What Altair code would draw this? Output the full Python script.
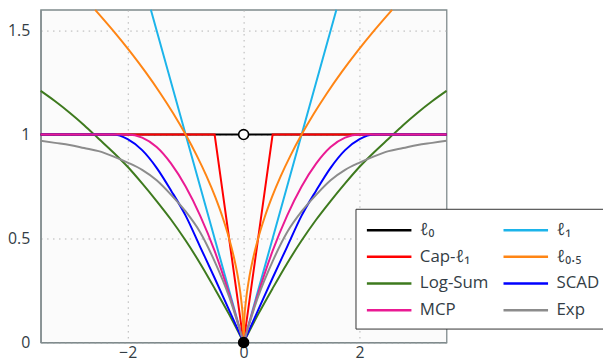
import altair as alt
import pandas as pd

# ---- data ----
names = ["ℓ₀", "ℓ₁", "Cap-ℓ₁", "ℓ₀.₅", "Log-Sum", "SCAD", "MCP", "Exp"]
colors = ["#000000", "#1cb4ea", "#ff0000", "#ff8514", "#3e7a1e", "#0000ff", "#ea1a93", "#8c8c8c"]
# legend order (two columns, filled column by column)
legend_order = ["ℓ₀", "Cap-ℓ₁", "Log-Sum", "MCP", "ℓ₁", "ℓ₀.₅", "SCAD", "Exp"]

# piecewise-linear series (full x range)
l0_x = [-3.5, 3.5]
l0_y = [1, 1]
l1_x = [-1.6, 0, 1.6]
l1_y = [1.6, 0, 1.6]
cap_x = [-3.5, -0.5, 0, 0.5, 3.5]
cap_y = [1, 1, 0, 1, 1]

# symmetric smooth series (|x| >= 0 half, mirrored)
l05_x = [0, 0.01, 0.04, 0.09, 0.16, 0.25, 0.36, 0.49, 0.64, 0.81, 1.0, 1.21, 1.44, 1.69, 1.96, 2.25, 2.56]
l05_y = [0, 0.1, 0.2, 0.3, 0.4, 0.5, 0.6, 0.7, 0.8, 0.9, 1.0, 1.1, 1.2, 1.3, 1.4, 1.5, 1.6]
half_x = [0, 0.25, 0.5, 0.75, 1.0, 1.25, 1.5, 1.75, 2.0, 2.25, 2.5, 2.75, 3.0, 3.25, 3.5]
log_y = [0, 0.135, 0.26, 0.38, 0.49, 0.59, 0.68, 0.765, 0.845, 0.915, 0.98, 1.045, 1.105, 1.16, 1.21]
scad_y = [0, 0.155, 0.31, 0.46, 0.61, 0.73, 0.84, 0.925, 0.978, 1.0, 1.0, 1.0, 1.0, 1.0, 1.0]
mcp_y = [0, 0.234, 0.44, 0.61, 0.75, 0.86, 0.94, 0.985, 1.0, 1.0, 1.0, 1.0, 1.0, 1.0, 1.0]
exp_y = [0, 0.22, 0.39, 0.53, 0.63, 0.71, 0.78, 0.83, 0.865, 0.895, 0.92, 0.935, 0.95, 0.96, 0.97]

marker_x = [0, 0]
marker_y = [0, 1]
marker_fill = ["#000000", "#ffffff"]

# ---- build table ----
rows = []
def add_full(name, xs, ys):
    for x, y in zip(xs, ys):
        rows.append({"series": name, "x": x, "y": y, "side": "A"})

def add_sym(name, xs, ys):
    for x, y in zip(xs, ys):
        rows.append({"series": name, "x": -x, "y": y, "side": "L"})
        rows.append({"series": name, "x": x, "y": y, "side": "R"})

add_full(names[0], l0_x, l0_y)
add_full(names[1], l1_x, l1_y)
add_full(names[2], cap_x, cap_y)
add_sym(names[3], l05_x, l05_y)
add_sym(names[4], half_x, log_y)
add_sym(names[5], half_x, scad_y)
add_sym(names[6], half_x, mcp_y)
add_sym(names[7], half_x, exp_y)
df = pd.DataFrame(rows)
mk = pd.DataFrame({"x": marker_x, "y": marker_y, "fill": marker_fill})

FONT = "Open Sans"
TXT = "#333d45"
FRAME = "#7f8a8c"

color_of = dict(zip(names, colors))
xscale = alt.Scale(domain=[-3.5, 3.5], nice=False, zero=False)
yscale = alt.Scale(domain=[0, 1.6], nice=False, zero=False)
cscale = alt.Scale(domain=legend_order, range=[color_of[n] for n in legend_order])

xax = alt.Axis(values=[-2, 0, 2], title=None, grid=True, ticks=False, format="~g", labelPadding=2)
yax = alt.Axis(values=[0, 0.5, 1, 1.5], title=None, grid=True, ticks=False, format="~g", labelPadding=11)

layers = []
for i, n in enumerate(names):
    interp = "linear" if i < 3 else "monotone"
    layers.append(
        alt.Chart(df)
        .transform_filter(alt.datum.series == n)
        .mark_line(strokeWidth=2, interpolate=interp)
        .encode(
            x=alt.X("x:Q", scale=xscale, axis=xax),
            y=alt.Y("y:Q", scale=yscale, axis=yax),
            color=alt.Color(
                "series:N",
                scale=cscale,
                legend=alt.Legend(
                    title=None, orient="none", legendX=318, legendY=201, columns=2,
                    symbolType="M-1,0H3.5", symbolSize=400, symbolStrokeWidth=2.5,
                    labelFontSize=17, labelFont=FONT, labelColor=TXT, labelOffset=32,
                    rowPadding=7, columnPadding=9, padding=10,
                    strokeColor="#333333", fillColor="#ffffff", cornerRadius=0,
                ),
            ),
            detail="side:N",
        )
    )

markers = (
    alt.Chart(mk)
    .mark_point(shape="circle", filled=True, size=100, stroke="#000000", strokeWidth=1.6, opacity=1, clip=False)
    .encode(
        x=alt.X("x:Q", scale=xscale),
        y=alt.Y("y:Q", scale=yscale),
        fill=alt.Fill("fill:N", scale=None),
    )
)

chart = (
    alt.layer(*layers, markers)
    .properties(
        width=410, height=336,
        autosize=alt.AutoSizeParams(type="none"),
        padding={"left": 33, "top": 0, "right": 158, "bottom": 24},
        background="#ffffff",
    )
    .configure_view(stroke=FRAME, strokeWidth=1.3, fill="#fbfbfb")
    .configure_axis(
        domainColor=FRAME, domainWidth=1.3,
        gridColor="#b3b3b3", gridDash=[1.5, 4.5], gridWidth=1,
        labelFont=FONT, labelFontSize=16, labelColor=TXT,
    )
)

chart.save("out.html", embed_options={"renderer": "svg", "actions": False})
